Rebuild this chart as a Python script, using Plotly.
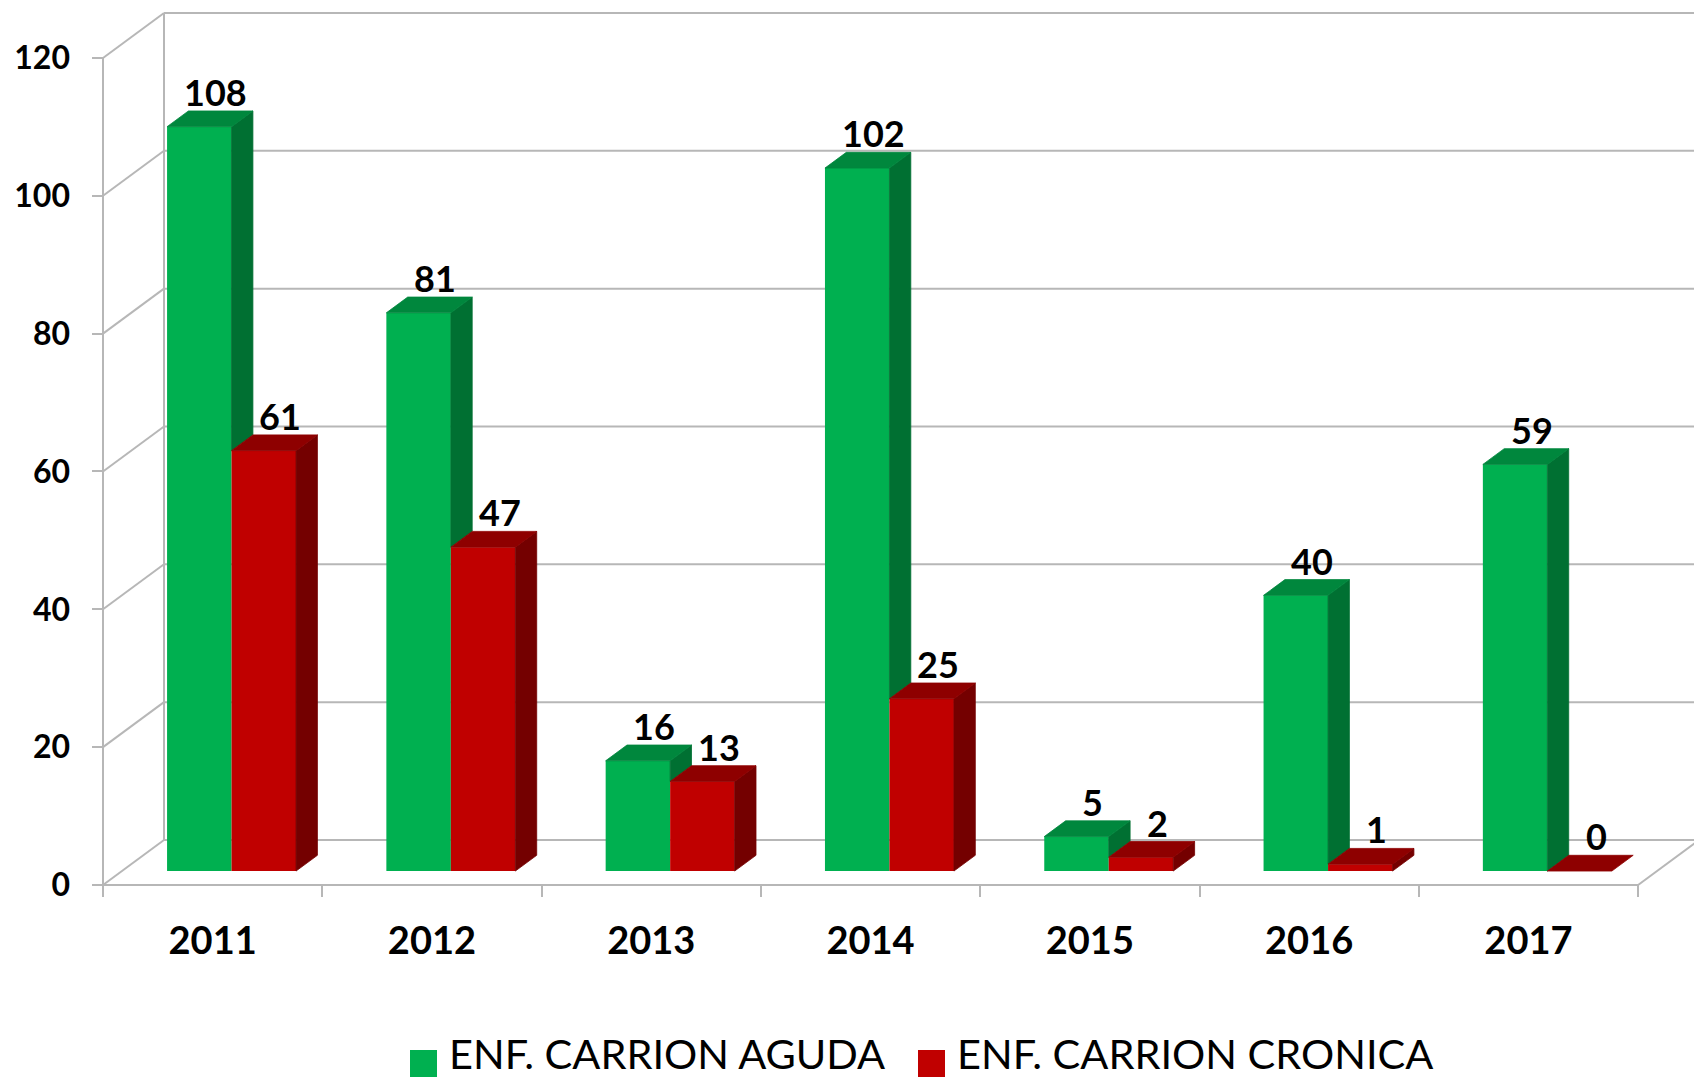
import plotly.graph_objects as go

# ---------------- data ----------------
years = ["2011", "2012", "2013", "2014", "2015", "2016", "2017"]
aguda = [108, 81, 16, 102, 5, 40, 59]
cronica = [61, 47, 13, 25, 2, 1, 0]
series_names = ["ENF. CARRION AGUDA", "ENF. CARRION CRONICA"]
y_ticks = [0, 20, 40, 60, 80, 100, 120]

# ---------------- styling / geometry ----------------
W, H = 1694, 1081
CAT_PX = 219.3          # pixels per category
VAL_PX = 6.892          # pixels per value unit
X0_PX = 103             # pixel of x=0 (front-left corner)
FLOOR_PX = 885          # pixel of value 0 on the front plane
PLOT_L, PLOT_R, PLOT_T, PLOT_B = 92, W, 0, 897

WALL_DX = 61 / CAT_PX   # depth offset of the back wall (x units)
WALL_DY = 45 / VAL_PX   # depth offset of the back wall (value units)
FRONT_Z = 0.31          # bar front face depth (fraction of wall depth)
BAR_Z = 0.35            # bar thickness (fraction of wall depth)
BW = 64.5 / CAT_PX      # bar width

xs, ys = FRONT_Z * WALL_DX, FRONT_Z * WALL_DY
ddx, ddy = BAR_Z * WALL_DX, BAR_Z * WALL_DY

GRID = "#B7B7B7"
COLORS = {
    "front": ["#00B050", "#C00000"],
    "top": ["#00873D", "#8E0000"],
    "side": ["#007032", "#740000"],
}

x_range = [(PLOT_L - X0_PX) / CAT_PX, (PLOT_R - X0_PX) / CAT_PX]
y_range = [(FLOOR_PX - PLOT_B) / VAL_PX, (FLOOR_PX - PLOT_T) / VAL_PX]

fig = go.Figure()
series = [aguda, cronica]
offsets = [-BW / 2, BW / 2]
n = len(years)

# front faces
centers = []
for s, vals in enumerate(series):
    xc = [i + 0.5 + offsets[s] + xs for i in range(n)]
    centers.append(xc)
    fig.add_trace(go.Bar(
        x=xc, y=vals, base=ys, width=BW, name=series_names[s],
        marker=dict(color=COLORS["front"][s], line=dict(width=0)),
        showlegend=False, hoverinfo="y+name",
    ))

# side and top faces
for s, vals in enumerate(series):
    sx, sy, tx, ty = [], [], [], []
    for i, v in enumerate(vals):
        xl = centers[s][i] - BW / 2
        xr = centers[s][i] + BW / 2
        top = ys + v
        bottom = ys
        if s == 0:
            bottom = ys + cronica[i]
        if top > bottom:
            sx += [xr, xr + ddx, xr + ddx, xr, xr, None]
            sy += [bottom, bottom + ddy, top + ddy, top, bottom, None]
        tx += [xl, xl + ddx, xr + ddx, xr, xl, None]
        ty += [top, top + ddy, top + ddy, top, top, None]
    fig.add_trace(go.Scatter(
        x=sx, y=sy, mode="lines", fill="toself",
        fillcolor=COLORS["side"][s], line=dict(color=COLORS["side"][s], width=0.8),
        showlegend=False, hoverinfo="skip",
    ))
    fig.add_trace(go.Scatter(
        x=tx, y=ty, mode="lines", fill="toself",
        fillcolor=COLORS["top"][s], line=dict(color=COLORS["top"][s], width=0.8),
        showlegend=False, hoverinfo="skip",
    ))

# value labels
annotations = []
for s, vals in enumerate(series):
    for i, v in enumerate(vals):
        annotations.append(dict(
            x=centers[s][i] + 0.075, y=ys + v + ddy, xref="x", yref="y",
            text=str(v), showarrow=False, xanchor="center", yanchor="bottom",
            yshift=-5,
            font=dict(family="Lato", size=36, color="black", weight="bold"),
        ))

# walls / grid
shapes = []
def seg(x0, y0, x1, y1):
    shapes.append(dict(type="line", xref="x", yref="y", x0=x0, y0=y0, x1=x1, y1=y1,
                       line=dict(color=GRID, width=2), layer="below"))

for v in y_ticks:
    seg(WALL_DX, v + WALL_DY, n + WALL_DX, v + WALL_DY)
    seg(0, v, WALL_DX, v + WALL_DY)
seg(WALL_DX, WALL_DY, WALL_DX, y_ticks[-1] + WALL_DY)
seg(0, 0, 0, y_ticks[-1])
seg(0, 0, n, 0)
seg(n, 0, n + WALL_DX, WALL_DY)
seg(n + WALL_DX, WALL_DY, n + WALL_DX, y_ticks[-1] + WALL_DY)

# custom legend
pw = PLOT_R - PLOT_L
ph = PLOT_B - PLOT_T
def px2paper(px, py):
    return (px - PLOT_L) / pw, (PLOT_B - py) / ph

legend_items = [(410, 447), (918, 955)]
for s, (sq_x, tx_x) in enumerate(legend_items):
    x0, y0 = px2paper(sq_x, 1077)
    x1, y1 = px2paper(sq_x + 27, 1050)
    shapes.append(dict(type="rect", xref="paper", yref="paper", x0=x0, y0=y0, x1=x1, y1=y1,
                       fillcolor=COLORS["front"][s], line=dict(width=0)))
    ax, ay = px2paper(tx_x, 1080)
    annotations.append(dict(
        x=ax, y=ay, xref="paper", yref="paper", text=series_names[s],
        showarrow=False, xanchor="left", yanchor="bottom",
        font=dict(family="Lato", size=41.5, color="black"),
    ))

fig.update_layout(
    width=W, height=H,
    margin=dict(l=PLOT_L, r=W - PLOT_R, t=PLOT_T, b=H - PLOT_B, pad=0),
    paper_bgcolor="white", plot_bgcolor="white",
    barmode="overlay", showlegend=False,
    shapes=shapes, annotations=annotations,
    xaxis=dict(
        range=x_range, tickmode="array",
        tickvals=[i + 0.5 for i in range(n)], ticktext=years,
        ticks="", showgrid=False, zeroline=False, showline=False,
        tickfont=dict(family="Lato", size=38, color="black", weight="bold"),
        ticklabelstandoff=18,
        minor=dict(tickmode="array", tickvals=list(range(n + 1)), ticks="inside",
                   ticklen=12, tickwidth=2, tickcolor=GRID, showgrid=False),
    ),
    yaxis=dict(
        range=y_range, tickmode="array", tickvals=y_ticks,
        ticks="inside", ticklen=11, tickwidth=2, tickcolor=GRID,
        showgrid=False, zeroline=False, showline=False,
        tickfont=dict(family="Lato", size=32, color="black", weight="bold"),
        ticklabelstandoff=21,
    ),
)

fig.write_html("out.html", config={"displayModeBar": False},
               post_script="document.body.style.margin='0';")
